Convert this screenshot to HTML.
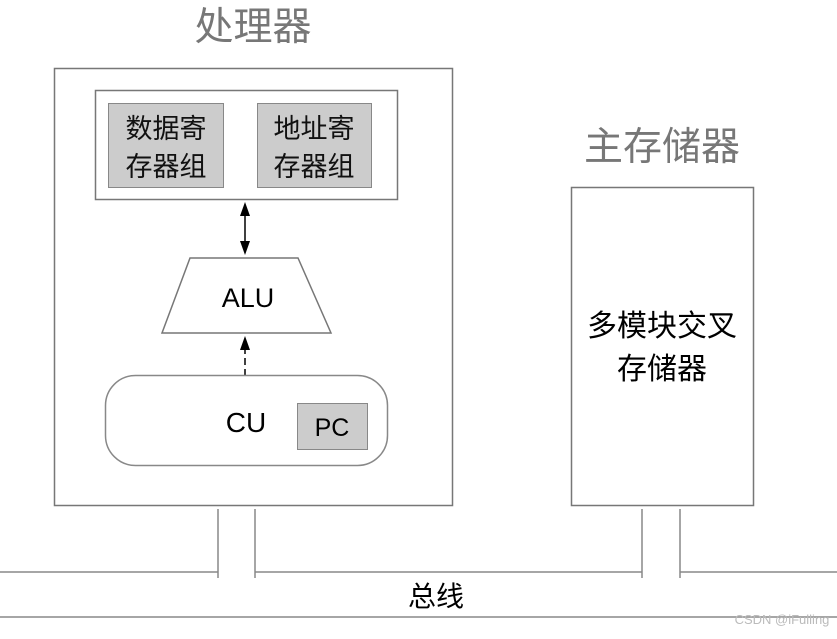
<!DOCTYPE html>
<html><head><meta charset="utf-8"><style>body{margin:0;background:#fff}</style></head><body>
<svg width="837" height="634" xmlns="http://www.w3.org/2000/svg" font-family="Liberation Sans, Noto Sans CJK SC, sans-serif">
<text x="253" y="40" font-size="39" fill="#777" text-anchor="middle">处理器</text>
<text x="662" y="160" font-size="39" fill="#777" text-anchor="middle">主存储器</text>
<rect x="54.5" y="68.5" width="398" height="437" fill="#fff" stroke="#777" stroke-width="1.5"/>
<rect x="95.5" y="90.5" width="302" height="109" fill="#fff" stroke="#777" stroke-width="1.5"/>
<rect x="108.5" y="103.5" width="115" height="84" fill="#ccc" stroke="#888"/>
<rect x="257.5" y="103.5" width="114" height="84" fill="#ccc" stroke="#888"/>
<g font-size="27" text-anchor="middle" fill="#111">
<text x="166" y="138">数据寄</text><text x="166" y="176">存器组</text>
<text x="314" y="138">地址寄</text><text x="314" y="176">存器组</text>
</g>
<line x1="245" y1="212" x2="245" y2="246" stroke="#000" stroke-width="1.5"/>
<polygon points="245,202 240,216 250,216" fill="#000"/>
<polygon points="245,255 240,241 250,241" fill="#000"/>
<polygon points="190,258 298,258 331,333 162,333" fill="#fff" stroke="#777" stroke-width="1.5"/>
<text x="248" y="307" font-size="27" text-anchor="middle">ALU</text>
<line x1="245" y1="376" x2="245" y2="346" stroke="#000" stroke-width="1.5" stroke-dasharray="7,4"/>
<polygon points="245,336 240,350 250,350" fill="#000"/>
<rect x="105.5" y="375.5" width="282" height="90" rx="30" fill="#fff" stroke="#888" stroke-width="1.5"/>
<text x="246" y="432" font-size="28" text-anchor="middle">CU</text>
<rect x="297.5" y="403.5" width="70" height="46" fill="#ccc" stroke="#888"/>
<text x="332" y="436" font-size="25" text-anchor="middle">PC</text>
<rect x="571.5" y="187.5" width="182" height="318" fill="#fff" stroke="#777" stroke-width="1.5"/>
<text x="662" y="336" font-size="30" text-anchor="middle">多模块交叉</text>
<text x="662" y="379" font-size="30" text-anchor="middle">存储器</text>
<g stroke="#888" stroke-width="1.5" fill="none">
<path d="M0,572 H218 V509 M218,572 V578"/>
<path d="M255,509 V578 M255,572 H642 V509 M642,572 V578"/>
<path d="M680,509 V578 M680,572 H837"/>
<line x1="0" y1="617" x2="837" y2="617"/>
</g>
<text x="436" y="606" font-size="28" text-anchor="middle">总线</text>
<text x="782" y="624" font-size="13" fill="#bbb" text-anchor="middle">CSDN @iFulling</text>
</svg>
</body></html>
